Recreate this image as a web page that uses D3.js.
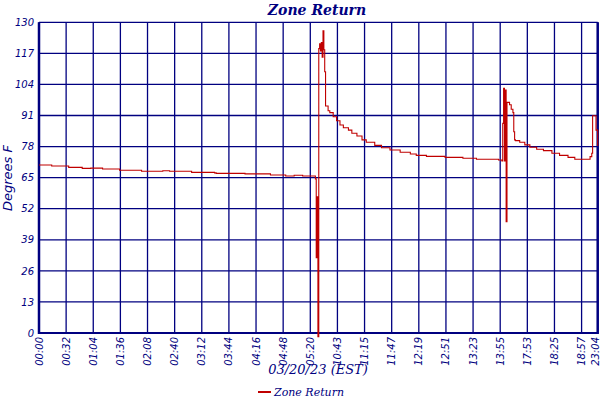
<!DOCTYPE html>
<html><head><meta charset="utf-8">
<script src="https://cdn.jsdelivr.net/npm/d3@7"></script>
<style>
html,body{margin:0;padding:0;background:#fff;}
svg{display:block;}
</style>
</head><body>
<svg id="chart" width="600" height="400"></svg>
<script>
// ---- data ----
const chartTitle = "Zone Return";
const xTitle = "03/20/23 (EST)";
const yTitle = "Degrees F";
const seriesName = "Zone Return";
const xTickLabels = ["00:00","00:32","01:04","01:36","02:08","02:40","03:12","03:44","04:16","04:48","05:20","10:43","11:15","11:47","12:19","12:51","13:23","13:55","17:53","18:25","18:57","23:04"];
const xTickIndex = [0,32,64,96,128,160,192,224,256,288,320,352,384,416,448,480,512,544,576,608,640,659];
const yTickValues = [0,13,26,39,52,65,78,91,104,117,130];
const yTickLabels = ["0","13","26","39","52","65","78","91","104","117","130"];
// sample index and temperature (deg F)
const sampleIndex = [0,15,35,51,61,75,95,121,146,154,180,207,209,243,273,291,301,311,326,327,328,329,330,331,332,333,334,335,336,337,338,341,343,347,351,355,359,365,369,375,381,386,396,404,414,426,438,445,457,479,500,516,542,546,547,548,549,550,551,552,555,557,559,560,561,562,567,573,579,587,595,605,614,624,632,646,650,652,653,657,659];
const temperature = [70.3,69.9,69.3,68.9,69.0,68.6,68.1,67.7,67.9,67.7,67.2,67.0,66.8,66.6,66.1,65.7,66.0,65.7,64.5,31.5,57.0,-1.5,119.0,121.0,118.0,121.5,115.4,126.4,118.5,109.3,95.0,93.0,92.2,90.5,88.8,87.0,85.9,84.9,83.6,82.4,80.8,79.8,78.5,77.5,76.6,75.6,74.9,74.3,73.9,73.5,73.1,72.7,72.4,72.0,87.7,102.4,72.0,101.7,46.6,96.5,95.5,93.6,92.2,84.2,80.8,80.5,79.8,78.7,77.7,76.9,76.3,75.2,74.3,73.5,72.7,72.7,73.8,75.2,90.9,84.9,78.2];

// ---- layout ----
const navy = "#000080";
const red = "#c00000";
const L = 39, R = 597.7, T = 22.3, B = 333;
const svg = d3.select("#chart");

const x = d3.scaleLinear().domain([0, 659]).range([L, R]);
const y = d3.scaleLinear().domain([0, 130]).range([B, T]);

// grid
const g = svg.append("g");
g.selectAll("line.vg").data(xTickIndex).join("line")
  .attr("x1", d => x(d)).attr("x2", d => x(d))
  .attr("y1", T).attr("y2", B)
  .attr("stroke", navy).attr("stroke-width", 1.3);
g.selectAll("line.hg").data(yTickValues).join("line")
  .attr("x1", L).attr("x2", R)
  .attr("y1", d => y(d)).attr("y2", d => y(d))
  .attr("stroke", navy).attr("stroke-width", 1.3);

// y axis labels
const yAxis = d3.axisLeft(y).tickValues(yTickValues)
  .tickFormat((d, i) => yTickLabels[i]).tickSize(0).tickPadding(5);
const ya = svg.append("g").attr("transform", `translate(${L},0)`).call(yAxis);
ya.select(".domain").remove();
ya.selectAll("text").attr("fill", navy)
  .style("font-family", "'DejaVu Sans', sans-serif")
  .style("font-style", "italic").style("font-size", "10px");

// x axis labels (rotated)
svg.append("g").selectAll("text").data(xTickIndex).join("text")
  .attr("transform", d => `translate(${Math.min(x(d) + 3.5, 598.5)},${B + 4}) rotate(-90)`)
  .attr("text-anchor", "end")
  .attr("fill", navy)
  .style("font-family", "'DejaVu Sans', sans-serif")
  .style("font-style", "italic").style("font-size", "10px")
  .text((d, i) => xTickLabels[i]);

// frame
svg.append("line").attr("x1", L).attr("x2", L).attr("y1", T).attr("y2", B+1)
  .attr("stroke", navy).attr("stroke-width", 2.5);
svg.append("line").attr("x1", R).attr("x2", R).attr("y1", T).attr("y2", B+1)
  .attr("stroke", navy).attr("stroke-width", 2.5);
svg.append("line").attr("x1", L).attr("x2", R).attr("y1", B).attr("y2", B)
  .attr("stroke", navy).attr("stroke-width", 2);

// series
const pts = sampleIndex.map((d, i) => [d, temperature[i]]);
const line = d3.line().x(d => x(d[0])).y(d => y(d[1])).curve(d3.curveStepAfter);
svg.append("path").datum(pts).attr("d", line)
  .attr("fill", "none").attr("stroke", red).attr("stroke-width", 1.1);

// titles
svg.append("text").attr("x", 317).attr("y", 15).attr("text-anchor", "middle")
  .attr("fill", navy).style("font-family", "'DejaVu Serif', serif")
  .style("font-style", "italic").style("font-weight", "bold").style("font-size", "14px")
  .text(chartTitle);
svg.append("text").attr("x", 318).attr("y", 374).attr("text-anchor", "middle")
  .attr("fill", navy).style("font-family", "'DejaVu Serif', serif")
  .style("font-style", "italic").style("font-size", "13px")
  .text(xTitle);
svg.append("text").attr("transform", "translate(12,178) rotate(-90)")
  .attr("text-anchor", "middle")
  .attr("fill", navy).style("font-family", "'DejaVu Sans', sans-serif")
  .style("font-style", "italic").style("font-size", "13px")
  .text(yTitle);

// legend
svg.append("line").attr("x1", 258).attr("x2", 271).attr("y1", 392).attr("y2", 392)
  .attr("stroke", red).attr("stroke-width", 2);
svg.append("text").attr("x", 274).attr("y", 396)
  .attr("fill", navy).style("font-family", "'DejaVu Serif', serif")
  .style("font-style", "italic").style("font-size", "11px")
  .text(seriesName);
</script>
</body></html>
